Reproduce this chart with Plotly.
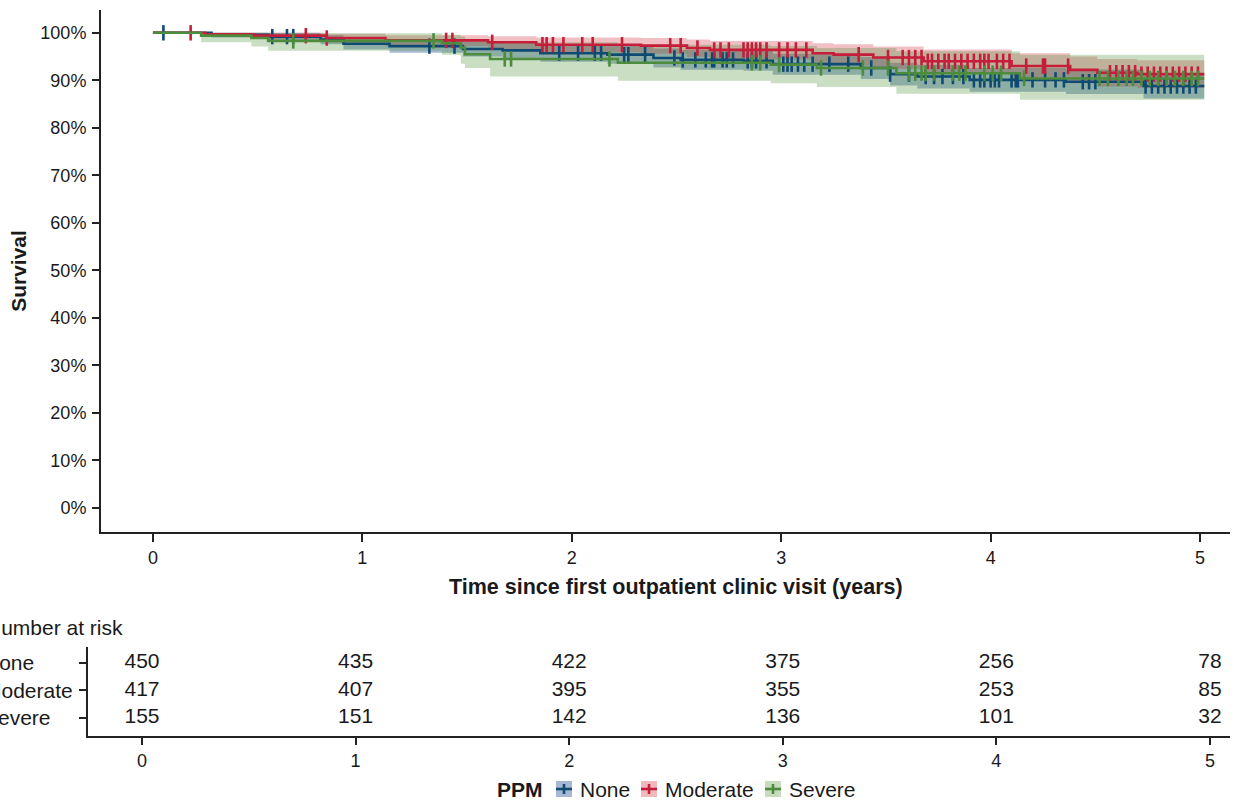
import numpy as np
import plotly.graph_objects as go

# ---------------- data ----------------
groups = ["None", "Moderate", "Severe"]
t_end = 5.02

none_t = [0, 0.28, 0.55, 0.80, 0.91, 1.13, 1.48, 1.67, 1.85, 2.17, 2.39, 2.52, 2.82, 2.96, 3.38, 3.52, 3.65, 3.90, 4.36, 4.73]
none_s = [100, 99.6, 99.2, 98.6, 97.7, 97.2, 96.6, 96.3, 95.7, 95.4, 94.7, 94.3, 94.1, 93.4, 92.6, 91.3, 90.8, 90.1, 89.7, 88.8]
none_lo = [100, 99.0, 98.4, 97.6, 96.5, 95.8, 95.0, 94.6, 93.9, 93.5, 92.7, 92.2, 92.0, 91.2, 90.3, 88.9, 88.3, 87.6, 87.1, 86.2]
none_hi = [100, 100, 100, 99.5, 98.8, 98.5, 98.1, 97.9, 97.5, 97.3, 96.7, 96.4, 96.2, 95.6, 94.9, 93.7, 93.3, 92.6, 92.3, 91.4]
none_cens = [0.05, 0.57, 0.64, 0.67, 1.32, 1.44, 1.94, 2.03, 2.11, 2.14, 2.25, 2.27, 2.35, 2.49, 2.53, 2.59,
             2.64, 2.67, 2.68, 2.72, 2.74, 2.77, 2.84, 2.86, 2.88, 2.93, 3.01, 3.03, 3.05, 3.08, 3.11, 3.15,
             3.23, 3.32, 3.43, 3.52, 3.61, 3.69, 3.73, 3.77, 3.82, 3.87, 3.92, 3.95, 3.97, 4.0, 4.02, 4.04,
             4.10, 4.12, 4.13, 4.20, 4.26, 4.31, 4.35, 4.44, 4.47, 4.50, 4.74, 4.77, 4.80, 4.83, 4.86, 4.89,
             4.92, 4.95, 4.98]

mod_t = [0, 0.25, 0.48, 0.83, 1.11, 1.60, 1.83, 2.33, 2.55, 2.66, 3.15, 3.25, 3.44, 3.68, 4.10, 4.38, 4.51, 4.70]
mod_s = [100, 99.7, 99.4, 98.9, 98.4, 98.0, 97.5, 97.3, 96.8, 96.4, 95.7, 95.4, 94.8, 94.0, 93.0, 92.2, 91.6, 91.3]
mod_lo = [100, 99.2, 98.7, 97.9, 97.2, 96.6, 95.9, 95.6, 94.9, 94.4, 93.5, 93.1, 92.4, 91.4, 90.3, 89.4, 88.7, 88.4]
mod_hi = [100, 100, 100, 99.8, 99.5, 99.3, 99.0, 98.9, 98.6, 98.3, 97.8, 97.6, 97.1, 96.5, 95.7, 95.0, 94.5, 94.2]
mod_cens = [0.18, 0.73, 0.83, 1.40, 1.43, 1.62, 1.86, 1.88, 1.91, 1.96, 2.05, 2.10, 2.24, 2.47, 2.52, 2.60,
            2.68, 2.71, 2.75, 2.82, 2.84, 2.86, 2.88, 2.90, 2.93, 2.99, 3.03, 3.07, 3.12, 3.37, 3.51, 3.58,
            3.61, 3.64, 3.67, 3.70, 3.72, 3.75, 3.78, 3.80, 3.83, 3.86, 3.89, 3.92, 3.95, 3.97, 3.99, 4.03,
            4.06, 4.09, 4.17, 4.25, 4.26, 4.37, 4.57, 4.60, 4.63, 4.66, 4.69, 4.72, 4.75, 4.78, 4.81, 4.84,
            4.87, 4.90, 4.93, 4.96, 4.99]

sev_t = [0, 0.23, 0.47, 0.55, 1.38, 1.47, 1.49, 1.61, 2.22, 2.95, 3.17, 3.55, 4.14]
sev_s = [100, 99.4, 98.9, 98.3, 97.8, 96.9, 95.5, 94.5, 93.7, 93.3, 92.6, 91.5, 90.4]
sev_lo = [100, 98.0, 97.1, 96.2, 95.4, 93.5, 92.6, 90.8, 89.9, 89.4, 88.6, 87.2, 85.9]
sev_hi = [100, 100, 100, 99.9, 99.6, 99.2, 98.5, 98.0, 97.5, 97.2, 96.8, 96.1, 95.4]
sev_cens = [0.67, 1.34, 1.68, 1.71, 2.18, 2.86, 2.90, 2.99, 3.19, 3.39, 3.51, 3.61, 3.64, 3.67, 3.69, 3.73,
            3.82, 3.85, 3.88, 3.97, 4.01, 4.05, 4.16, 4.52, 4.56, 4.61, 4.65, 4.68, 4.72, 4.76, 4.80, 4.84,
            4.88, 4.92, 4.96, 4.99]

risk_times = [0, 1, 2, 3, 4, 5]
risk_none = [450, 435, 422, 375, 256, 78]
risk_mod = [417, 407, 395, 355, 253, 85]
risk_sev = [155, 151, 142, 136, 101, 32]

x_ticks = [0, 1, 2, 3, 4, 5]
y_ticks = [0, 10, 20, 30, 40, 50, 60, 70, 80, 90, 100]
y_ticklabels = [f"{v}%" for v in y_ticks]

# ---------------- styles ----------------
FONT = "Liberation Sans, Arial, Helvetica, sans-serif"
TXT = "#1a1a1a"
TICK_SIZE = 18
BIG = 21
line_cols = {"None": "#0e4a72", "Moderate": "#c41e3a", "Severe": "#4c8c3c"}
fill_cols = {"None": "rgba(25,75,140,0.38)", "Moderate": "rgba(205,30,45,0.28)", "Severe": "rgba(80,145,55,0.30)"}
legend_box = {"None": "#a7b9d2", "Moderate": "#f1b9bd", "Severe": "#c6dcbc"}

series = {
    "None": (none_t, none_s, none_lo, none_hi, none_cens),
    "Moderate": (mod_t, mod_s, mod_lo, mod_hi, mod_cens),
    "Severe": (sev_t, sev_s, sev_lo, sev_hi, sev_cens),
}

fig = go.Figure()

# CI bands
for g in groups:
    t, s, lo, hi, c = series[g]
    xs = list(t) + [t_end]
    fig.add_trace(go.Scatter(x=xs, y=list(lo) + [lo[-1]], mode="lines", line=dict(width=0, shape="hv"),
                             hoverinfo="skip", showlegend=False, xaxis="x", yaxis="y"))
    fig.add_trace(go.Scatter(x=xs, y=list(hi) + [hi[-1]], mode="lines", line=dict(width=0, shape="hv"),
                             fill="tonexty", fillcolor=fill_cols[g], hoverinfo="skip", showlegend=False,
                             xaxis="x", yaxis="y"))

# survival curves + censor marks
for g in groups:
    t, s, lo, hi, c = series[g]
    xs = list(t) + [t_end]
    fig.add_trace(go.Scatter(x=xs, y=list(s) + [s[-1]], mode="lines",
                             line=dict(width=2.6, color=line_cols[g], shape="hv"),
                             name=g, showlegend=False, xaxis="x", yaxis="y"))
    tarr = np.array(t)
    idx = np.searchsorted(tarr, np.array(c), side="right") - 1
    cy = [s[i] for i in idx]
    fig.add_trace(go.Scatter(x=c, y=cy, mode="markers",
                             marker=dict(symbol="line-ns", size=11, line=dict(width=2.6, color=line_cols[g])),
                             showlegend=False, hoverinfo="skip", xaxis="x", yaxis="y"))

# risk table
row_y = {"None": 3, "Moderate": 2, "Severe": 1}
risk = {"None": risk_none, "Moderate": risk_mod, "Severe": risk_sev}
for g in groups:
    fig.add_trace(go.Scatter(x=risk_times, y=[row_y[g]] * len(risk_times), mode="text",
                             text=[str(v) for v in risk[g]],
                             textfont=dict(family=FONT, size=BIG, color=TXT),
                             showlegend=False, hoverinfo="skip", xaxis="x2", yaxis="y2"))

W, H = 1234, 801
def px(x):
    return x / W
def py(y):
    return 1 - y / H

def axis_common(size):
    return dict(showline=True, linewidth=2, linecolor="#222222", ticks="outside", tickwidth=2,
                tickcolor="#222222", showgrid=False, zeroline=False,
                tickfont=dict(family=FONT, size=size, color=TXT), automargin=False)

layout = dict(
    width=W, height=H,
    margin=dict(l=0, r=0, t=0, b=0),
    paper_bgcolor="white", plot_bgcolor="white",
    font=dict(family=FONT, color=TXT),
    xaxis=dict(domain=[px(101), px(1230)], range=[-0.248, 5.143], tickvals=x_ticks, ticklen=8,
               anchor="y", **axis_common(TICK_SIZE)),
    yaxis=dict(domain=[py(532), py(10)], range=[-5.05, 104.8], tickvals=y_ticks, ticktext=y_ticklabels,
               ticklen=7, anchor="x", ticklabelstandoff=2,
               title=dict(text="<b>Survival</b>", font=dict(family=FONT, size=BIG, color=TXT), standoff=8),
               **axis_common(TICK_SIZE)),
    xaxis2=dict(domain=[px(88), px(1230)], range=[-0.253, 5.094], tickvals=x_ticks, ticklen=7,
                anchor="y2", **axis_common(TICK_SIZE)),
    yaxis2=dict(domain=[py(736), py(647)], range=[0.345, 3.58], tickvals=[3, 2, 1], ticktext=["", "", ""],
                ticklen=7, anchor="x2", **axis_common(BIG)),
    showlegend=False,
)
fig.update_layout(**layout)

# x-axis title
fig.add_annotation(x=px(676), y=py(587), xref="paper", yref="paper",
                   text="<b>Time since first outpatient clinic visit (years)</b>", showarrow=False,
                   xanchor="center", yanchor="middle", font=dict(family=FONT, size=21.5, color=TXT))

# risk-table row labels (left aligned, as in the reference)
for g in groups:
    fig.add_annotation(x=px(-18), y=row_y[g], xref="paper", yref="y2", text=g, showarrow=False,
                       xanchor="left", yanchor="middle", font=dict(family=FONT, size=BIG, color=TXT))

# "Number at risk" caption
fig.add_annotation(x=px(-16), y=py(627), xref="paper", yref="paper", text="Number at risk", showarrow=False,
                   xanchor="left", yanchor="middle", font=dict(family=FONT, size=BIG, color=TXT))

# manual legend
ly = 789
fig.add_annotation(x=px(495), y=py(ly), xref="paper", yref="paper", text="<b>PPM</b>", showarrow=False,
                   xanchor="left", yanchor="middle", font=dict(family=FONT, size=BIG, color=TXT))
box_x = {"None": 556, "Moderate": 641, "Severe": 765}
for g in groups:
    bx = box_x[g]
    fig.add_shape(type="rect", xref="paper", yref="paper", x0=px(bx), x1=px(bx + 16), y0=py(ly + 8), y1=py(ly - 8),
                  fillcolor=legend_box[g], line=dict(width=0), layer="above")
    fig.add_shape(type="line", xref="paper", yref="paper", x0=px(bx), x1=px(bx + 16), y0=py(ly), y1=py(ly),
                  line=dict(color=line_cols[g], width=2.6), layer="above")
    fig.add_shape(type="line", xref="paper", yref="paper", x0=px(bx + 8), x1=px(bx + 8), y0=py(ly + 5), y1=py(ly - 5),
                  line=dict(color=line_cols[g], width=2.6), layer="above")
    fig.add_annotation(x=px(bx + 22), y=py(ly), xref="paper", yref="paper", text=g, showarrow=False,
                       xanchor="left", yanchor="middle", font=dict(family=FONT, size=BIG, color=TXT))

fig.write_html("out.html", config={"displayModeBar": False},
               post_script="document.body.style.margin='0';document.body.style.overflow='hidden';")
